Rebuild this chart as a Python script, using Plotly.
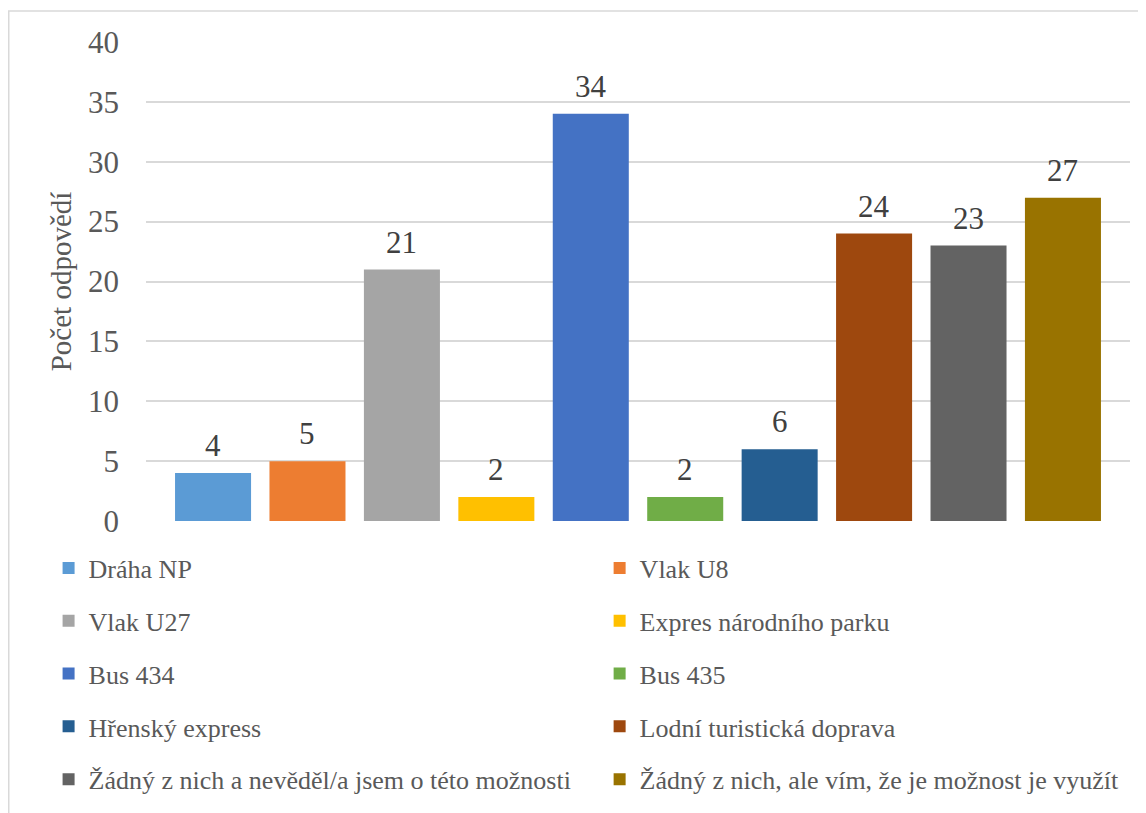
import plotly.graph_objects as go

# odpovědi respondentů
series_names = [
    "Dráha NP",
    "Vlak U8",
    "Vlak U27",
    "Expres národního parku",
    "Bus 434",
    "Bus 435",
    "Hřenský express",
    "Lodní turistická doprava",
    "Žádný z nich a nevěděl/a jsem o této možnosti",
    "Žádný z nich, ale vím, že je možnost je využít",
]
counts = [4, 5, 21, 2, 34, 2, 6, 24, 23, 27]
colors = ["#5B9BD5", "#ED7D31", "#A5A5A5", "#FFC000", "#4472C4",
          "#70AD47", "#255E91", "#9E480E", "#636363", "#997300"]
y_ticks = [0, 5, 10, 15, 20, 25, 30, 35, 40]

FONT = "Liberation Serif"

fig = go.Figure()
for i, (name, val, col) in enumerate(zip(series_names, counts, colors)):
    fig.add_trace(go.Bar(
        x=[name], y=[val], name=name,
        marker=dict(color=col, line=dict(width=0)),
        legend="legend" if i % 2 == 0 else "legend2",
        legendgroup=name,
    ))
    # popisek hodnoty nad sloupcem
    fig.add_annotation(x=name, y=val, text=str(val), showarrow=False,
                       yanchor="bottom", yshift=8,
                       font=dict(family=FONT, size=31, color="#404040"))

fig.update_layout(
    width=1138, height=805,
    margin=dict(l=138, r=16, t=34, b=291),
    paper_bgcolor="white", plot_bgcolor="white",
    bargap=0.195,
    font=dict(family=FONT, color="#595959"),
    showlegend=True,
    legend=dict(x=-0.099, y=-0.047, xanchor="left", yanchor="top",
                orientation="v", tracegroupgap=16, itemwidth=30,
                font=dict(family=FONT, size=26, color="#595959")),
    legend2=dict(x=0.461, y=-0.047, xanchor="left", yanchor="top",
                 orientation="v", tracegroupgap=16, itemwidth=30,
                 font=dict(family=FONT, size=26, color="#595959")),
)

fig.update_xaxes(showticklabels=False, showgrid=False, zeroline=False,
                 showline=False, range=[-0.71, 9.71], fixedrange=True)
fig.update_yaxes(range=[0, 40], tickvals=y_ticks, showgrid=True,
                 gridcolor="#D9D9D9", gridwidth=1.5, zeroline=False,
                 showline=False, ticklabelstandoff=26,
                 tickfont=dict(family=FONT, size=31, color="#595959"),
                 title=dict(text="Počet odpovědí", standoff=7,
                            font=dict(family=FONT, size=29, color="#595959")))

# rámeček grafu
fig.add_shape(type="rect", xref="paper", yref="paper",
              x0=(0.75 - 138) / 984, x1=1.2, y0=-1.0, y1=1 + 31 / 480,
              line=dict(color="#D9D9D9", width=1.5), fillcolor="rgba(0,0,0,0)",
              layer="below")

fig.write_html("out.html")
